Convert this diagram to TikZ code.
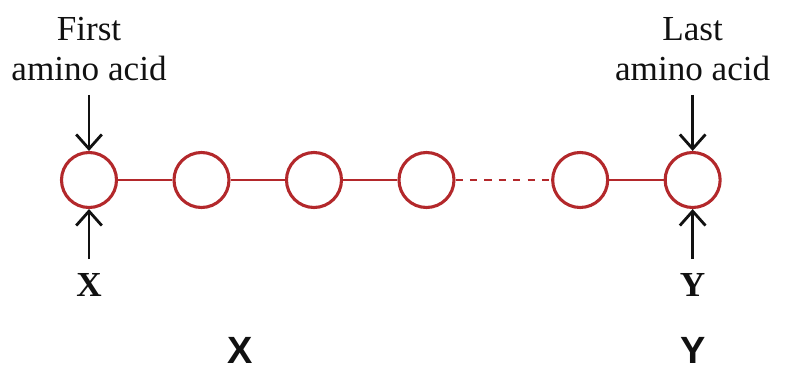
\documentclass[tikz,border=0pt]{standalone}
\usepackage{fontspec}
\setmainfont{Liberation Serif}
\setsansfont{Liberation Sans}
\definecolor{ChainRed}{HTML}{B3282B}
\definecolor{InkBlack}{HTML}{111111}
\usetikzlibrary{arrows.meta,positioning}
\tikzset{
  aminoNode/.style={circle, draw=ChainRed, line width=2.2pt, fill=white, minimum size=1.375cm, inner sep=0pt},
  bondEdge/.style={draw=ChainRed, line width=1.8pt},
  gapEdge/.style={draw=ChainRed, line width=2pt, dash pattern=on 1.8mm off 1.8mm},
  pointArrow/.style={-{Straight Barb[length=3.6mm,width=6.4mm]}, line width=2pt, draw=InkBlack},
  endLabel/.style={align=center, inner sep=0.35cm, text=InkBlack, font=\fontsize{25}{28.5}\selectfont},
  endMark/.style={inner sep=0.35cm, text=InkBlack, font=\fontsize{25}{30}\selectfont\bfseries},
  bigMark/.style={inner sep=0pt, text=InkBlack, font=\fontsize{27}{32}\selectfont\sffamily\bfseries}
}

\begin{document}
\begin{tikzpicture}
\useasboundingbox (0,0) rectangle (20,9.575);

% chain of amino acids
\node[aminoNode] (c1) at (2.225,5.075) {};
\node[aminoNode, right=1.36cm of c1] (c2) {};
\node[aminoNode, right=1.36cm of c2] (c3) {};
\node[aminoNode, right=1.36cm of c3] (c4) {};
\node[aminoNode, right=2.39cm of c4] (c5) {};
\node[aminoNode, right=1.36cm of c5] (c6) {};

\foreach \a/\b in {c1/c2,c2/c3,c3/c4,c5/c6}
  \draw[bondEdge] (\a) -- (\b);
\draw[gapEdge] (c4) -- (c5);

% ends
\node[endLabel, above=1.4cm of c1] (firstLbl) {First\\amino acid};
\node[endLabel, above=1.4cm of c6] (lastLbl) {Last\\amino acid};
\node[endMark, below=1.25cm of c1] (endX) {X};
\node[endMark, below=1.25cm of c6] (endY) {Y};

\draw[pointArrow] (firstLbl) -- (c1);
\draw[pointArrow] (lastLbl) -- (c6);
\draw[pointArrow] (endX) -- (c1);
\draw[pointArrow] (endY) -- (c6);

\node[bigMark] (bigX) at (6.0,0.825) {X};
\node[bigMark] (bigY) at (c6 |- bigX) {Y};
\end{tikzpicture}
\end{document}
